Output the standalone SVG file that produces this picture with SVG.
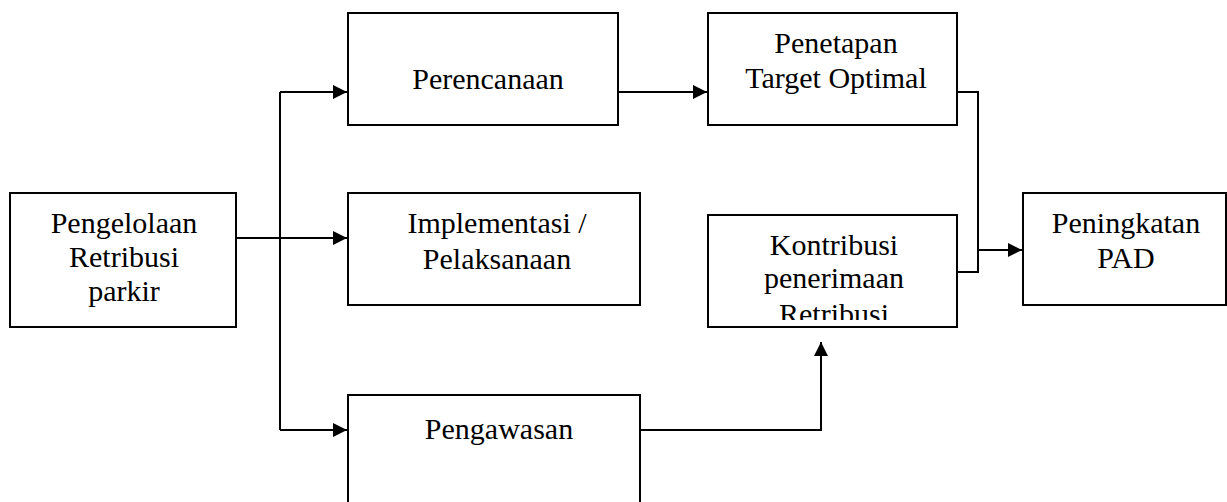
<svg xmlns="http://www.w3.org/2000/svg" width="1227" height="502" viewBox="0 0 1227 502">
<style>
.box{fill:#fff;stroke:#000;stroke-width:2}
.lbl{font-family:"Liberation Serif","Times New Roman",serif;font-size:30px;fill:#000;text-anchor:middle}
.con{fill:none;stroke:#000;stroke-width:2}
</style>
<defs>
<marker id="arr" markerUnits="userSpaceOnUse" markerWidth="14" markerHeight="14" refX="14" refY="7" orient="auto">
<path d="M0,0 L14,7 L0,14 Z" fill="#000"/>
</marker>
<clipPath id="kclip"><rect x="708" y="215" width="249" height="105"/></clipPath>
</defs>
<rect width="1227" height="502" fill="#fff"/>
<g id="connectors">
<path class="con" d="M236,238 H347" marker-end="url(#arr)"/>
<path class="con" d="M280,92 V430"/>
<path class="con" d="M280,92 H347" marker-end="url(#arr)"/>
<path class="con" d="M280,430 H347" marker-end="url(#arr)"/>
<path class="con" d="M618,92 H707" marker-end="url(#arr)"/>
<path class="con" d="M957,92 H978 V272 H957"/>
<path class="con" d="M978,250 H1022" marker-end="url(#arr)"/>
<path class="con" d="M640,430 H821 V342" marker-end="url(#arr)"/>
</g>
<g id="pengelolaan">
<rect class="box" x="10" y="193" width="226" height="134"/>
<text class="lbl" x="124" y="233">Pengelolaan</text>
<text class="lbl" x="124" y="267">Retribusi</text>
<text class="lbl" x="124" y="301">parkir</text>
</g>
<g id="perencanaan">
<rect class="box" x="348" y="13" width="270" height="112"/>
<text class="lbl" x="488" y="89">Perencanaan</text>
</g>
<g id="implementasi">
<rect class="box" x="348" y="193" width="292" height="112"/>
<text class="lbl" x="497" y="233">Implementasi /</text>
<text class="lbl" x="497" y="269">Pelaksanaan</text>
</g>
<g id="pengawasan">
<rect class="box" x="348" y="395" width="292" height="112"/>
<text class="lbl" x="499" y="439">Pengawasan</text>
</g>
<g id="penetapan">
<rect class="box" x="708" y="13" width="249" height="112"/>
<text class="lbl" x="836" y="53">Penetapan</text>
<text class="lbl" x="836" y="88">Target Optimal</text>
</g>
<g id="kontribusi">
<rect class="box" x="708" y="215" width="249" height="112"/>
<g clip-path="url(#kclip)">
<text class="lbl" x="834" y="255">Kontribusi</text>
<text class="lbl" x="834" y="288">penerimaan</text>
<text class="lbl" x="834" y="324">Retribusi</text>
</g>
</g>
<g id="peningkatan">
<rect class="box" x="1023" y="193" width="203" height="112"/>
<text class="lbl" x="1126" y="233">Peningkatan</text>
<text class="lbl" x="1126" y="268">PAD</text>
</g>
</svg>
